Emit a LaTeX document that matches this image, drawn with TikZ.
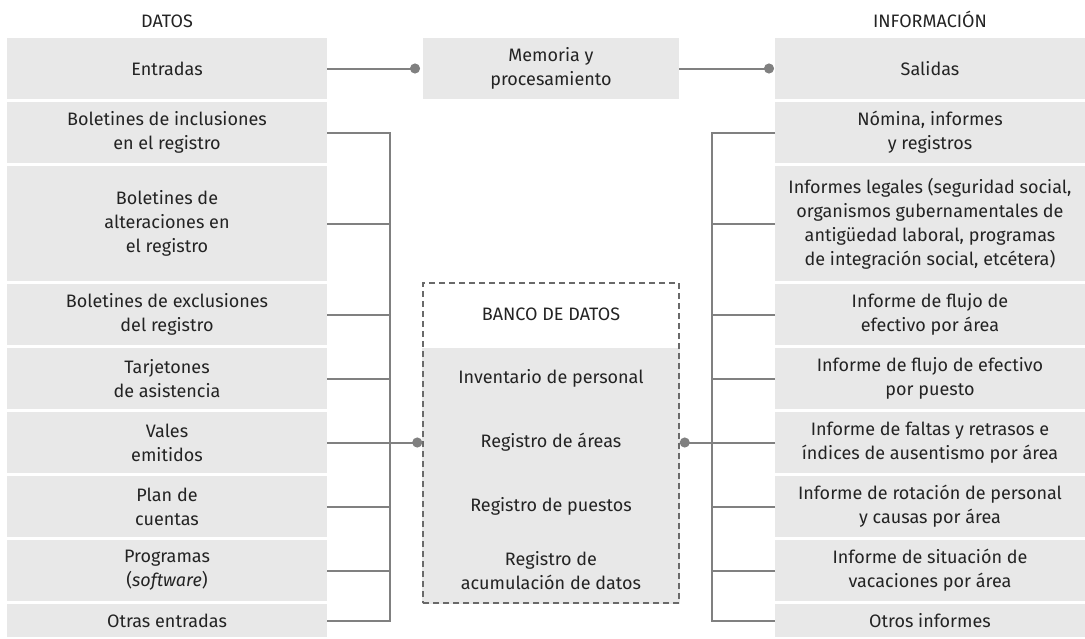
\documentclass[tikz,border=0pt]{standalone}
\usepackage{fontspec}
\setmainfont{Fira Sans}
\usetikzlibrary{arrows.meta, positioning, backgrounds}
\definecolor{boxgray}{RGB}{232,232,232}
\definecolor{linegray}{RGB}{128,128,128}
\definecolor{dashgray}{RGB}{105,105,105}
\definecolor{textdark}{RGB}{35,35,35}
\newcommand{\boxfont}{\fontsize{18}{24}\selectfont}

\begin{document}
\begin{tikzpicture}[x=1pt, y=-1pt,
    node distance=3pt,
    box/.style={rectangle, fill=boxgray, text=textdark, minimum width=320pt, minimum height=61pt, inner sep=0pt, outer sep=0pt, align=center, font=\boxfont},
    rbox/.style={box, minimum width=310pt},
    tallbox/.style={minimum height=115pt},
    lowbox/.style={minimum height=33pt},
    head/.style={anchor=base, text=textdark, font=\boxfont},
    item/.style={text=textdark, align=center, font=\boxfont, inner sep=0pt},
    bank/.style={rectangle, draw=dashgray, dash pattern=on 6pt off 4pt, line width=1.5pt, minimum width=256pt, minimum height=320pt, inner sep=0pt},
    link/.style={draw=linegray, line width=2pt},
    dotend/.style={-{Circle[length=10pt]}}
]
\useasboundingbox (0,0) rectangle (1085,638);

% Left column: data
\node[box] (entradas) at (167,68.5) {Entradas};
\node[box, below=of entradas] (inclus) {Boletines de inclusiones\\en el registro};
\node[box, tallbox, below=of inclus] (alter) {Boletines de\\alteraciones en\\el registro};
\node[box, below=of alter] (exclus) {Boletines de exclusiones\\del registro};
\node[box, below=of exclus] (tarjet) {Tarjetones\\de asistencia};
\node[box, below=of tarjet] (vales) {Vales\\emitidos};
\node[box, below=of vales] (plan) {Plan de\\cuentas};
\node[box, below=of plan] (progr) {Programas\\(\textit{software})};
\node[box, lowbox, below=of progr] (otras) {Otras entradas};

% Middle
\node[box, minimum width=256pt] (memoria) at (551,68.5) {Memoria y\\procesamiento};

% Right column: information
\node[rbox] (salidas) at (930,68.5) {Salidas};
\node[rbox, below=of salidas] (nomina) {Nómina, informes\\y registros};
\node[rbox, tallbox, below=of nomina] (legales) {Informes legales (seguridad social,\\organismos gubernamentales de\\antigüedad laboral, programas\\de integración social, etcétera)};
\node[rbox, below=of legales] (flujoarea) {Informe de flujo de\\efectivo por área};
\node[rbox, below=of flujoarea] (flujopuesto) {Informe de flujo de efectivo\\por puesto};
\node[rbox, below=of flujopuesto] (faltas) {Informe de faltas y retrasos e\\índices de ausentismo por área};
\node[rbox, below=of faltas] (rotacion) {Informe de rotación de personal\\y causas por área};
\node[rbox, below=of rotacion] (vacac) {Informe de situación de\\vacaciones por área};
\node[rbox, lowbox, below=of vacac] (otros) {Otros informes};

% Headers
\node[head] (datos) at ([yshift=11pt]entradas.north) {DATOS};
\node[head] (informacion) at ([yshift=11pt]salidas.north) {INFORMACIÓN};

% Data bank
\node[bank] (banco) at (551,443) {};
\begin{scope}[on background layer]
\fill[boxgray] (banco.south west) rectangle (banco.east |- tarjet.north);
\end{scope}
\node[item] (bancotit) at (banco.center |- exclus) {BANCO DE DATOS};
\node[item] (inventario) at (banco.center |- tarjet) {Inventario de personal};
\node[item] (areas) at (banco.center |- vales) {Registro de áreas};
\node[item] (puestos) at (banco.center |- plan) {Registro de puestos};
\node[item] (acumul) at (banco.center |- progr) {Registro de\\acumulación de datos};

% Connectors
\coordinate (lbus) at (390,0);
\coordinate (rbus) at (712,0);
\draw[link, dotend, shorten >=3pt] (entradas) -- (memoria);
\draw[link, dotend, shorten >=1pt] (memoria) -- (salidas);

\draw[link] (inclus.east) -| (otras.east -| lbus) -- (otras.east);
\draw[link] (alter.east) -- (alter.east -| lbus);
\draw[link] (exclus.east) -- (exclus.east -| lbus);
\draw[link] (tarjet.east) -- (tarjet.east -| lbus);
\draw[link] (plan.east) -- (plan.east -| lbus);
\draw[link] (progr.east) -- (progr.east -| lbus);
\draw[link, dotend] (vales.east) -- (vales.east -| banco.west);

\draw[link] (nomina.west) -| (otros.west -| rbus) -- (otros.west);
\draw[link] (legales.west) -- (legales.west -| rbus);
\draw[link] (flujoarea.west) -- (flujoarea.west -| rbus);
\draw[link] (flujopuesto.west) -- (flujopuesto.west -| rbus);
\draw[link] (rotacion.west) -- (rotacion.west -| rbus);
\draw[link] (vacac.west) -- (vacac.west -| rbus);
\draw[link, dotend] (faltas.west) -- (faltas.west -| banco.east);
\end{tikzpicture}
\end{document}
